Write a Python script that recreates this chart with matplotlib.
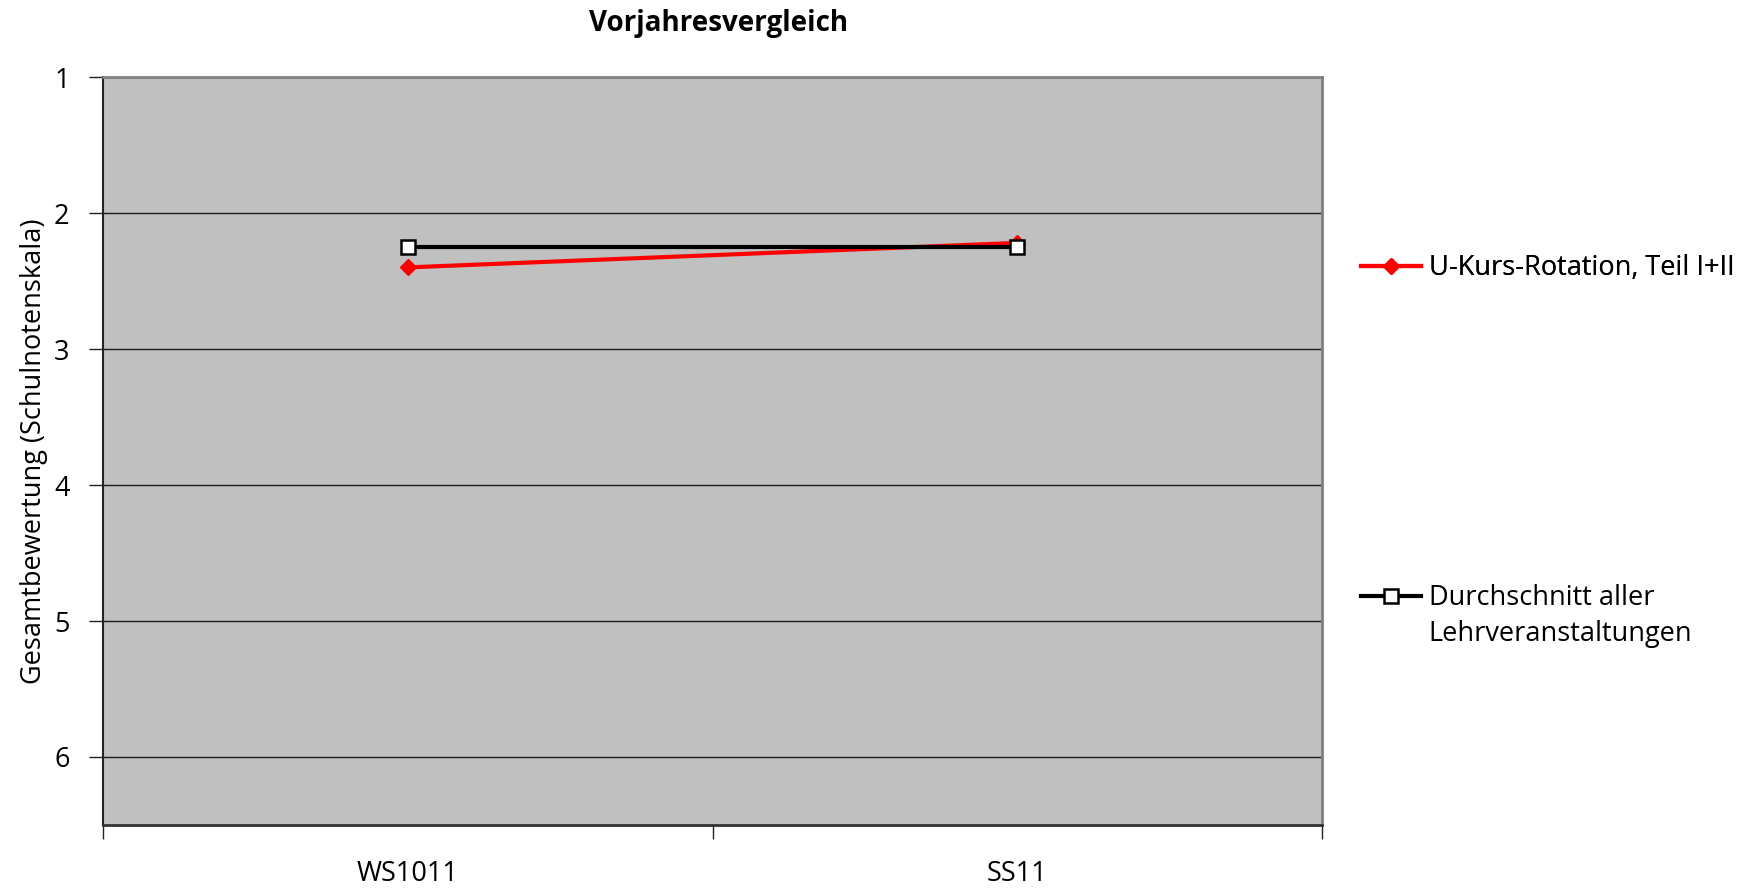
import matplotlib
matplotlib.use("Agg")
import matplotlib.pyplot as plt
import numpy as np

categories = ["WS1011", "SS11"]
series_red = [2.40, 2.22]
series_black = [2.25, 2.25]
label_red = "U-Kurs-Rotation, Teil I+II"
label_black_lines = ["Durchschnitt aller", "Lehrveranstaltungen"]
yticks = [1, 2, 3, 4, 5, 6]
title = "Vorjahresvergleich"
ylabel = "Gesamtbewertung (Schulnotenskala)"

plt.rcParams['font.family'] = ['Open Sans', 'DejaVu Sans']
FS = 19.5

fig = plt.figure(figsize=(17.42, 8.90), dpi=100)
ax = fig.add_axes([103/1742, 1-825/890, (1322-103)/1742, (825-77)/890])
ax.set_facecolor('#C0C0C0')

x = np.arange(len(categories)) + 0.5
ax.set_xlim(0, len(categories))
ax.set_ylim(6.5, 1)

ax.set_yticks(yticks)
ax.set_yticklabels([str(v) for v in yticks], fontsize=FS)
ax.yaxis.grid(True, color='#1a1a1a', linewidth=1.0)
ax.set_axisbelow(True)

ax.set_xticks(np.arange(len(categories) + 1))
ax.set_xticklabels([])
ax.set_xticks(x, minor=True)
ax.set_xticklabels(categories, minor=True, fontsize=FS)
ax.tick_params(axis='x', which='minor', length=0, pad=25)
ax.tick_params(axis='x', which='major', length=10, width=1, color='#222222')
ax.tick_params(axis='y', length=10, width=1, color='#222222', pad=14)

for side in ['top', 'right']:
    ax.spines[side].set_color('#808080')
    ax.spines[side].set_linewidth(2.0)
ax.spines['left'].set_color('#222222')
ax.spines['left'].set_linewidth(1.5)
ax.spines['bottom'].set_color('#333333')
ax.spines['bottom'].set_linewidth(2.0)

l_red, = ax.plot(x, series_red, color='#FF0000', linewidth=3, marker='D',
                 markersize=8, markerfacecolor='#FF0000', markeredgecolor='#FF0000',
                 zorder=3)
l_blk, = ax.plot(x, series_black, color='black', linewidth=3, marker='s',
                 markersize=10, markerfacecolor='white', markeredgecolor='black',
                 markeredgewidth=1.8, zorder=4)

ax.set_title(title, fontsize=20, fontweight='bold', pad=33, x=0.505)
ax.set_ylabel(ylabel, fontsize=FS, labelpad=4)

leg1 = fig.legend([l_red], [label_red], loc='center left',
                  bbox_to_anchor=(1361/1742, 1-268/890), frameon=False,
                  fontsize=FS, handlelength=2.2, handletextpad=0.3,
                  borderpad=0, borderaxespad=0)
fig.add_artist(leg1)
leg2 = fig.legend([l_blk], [label_black_lines[0]], loc='center left',
                  bbox_to_anchor=(1361/1742, 1-598/890), frameon=False,
                  fontsize=FS, handlelength=2.2, handletextpad=0.3,
                  borderpad=0, borderaxespad=0)

fig.canvas.draw()
bb = leg2.get_texts()[0].get_window_extent()
fig.text(bb.x0 / fig.bbox.width, 1 - 634/890, label_black_lines[1],
         fontsize=FS, ha='left', va='center')

fig.savefig("out.png", dpi=100)
